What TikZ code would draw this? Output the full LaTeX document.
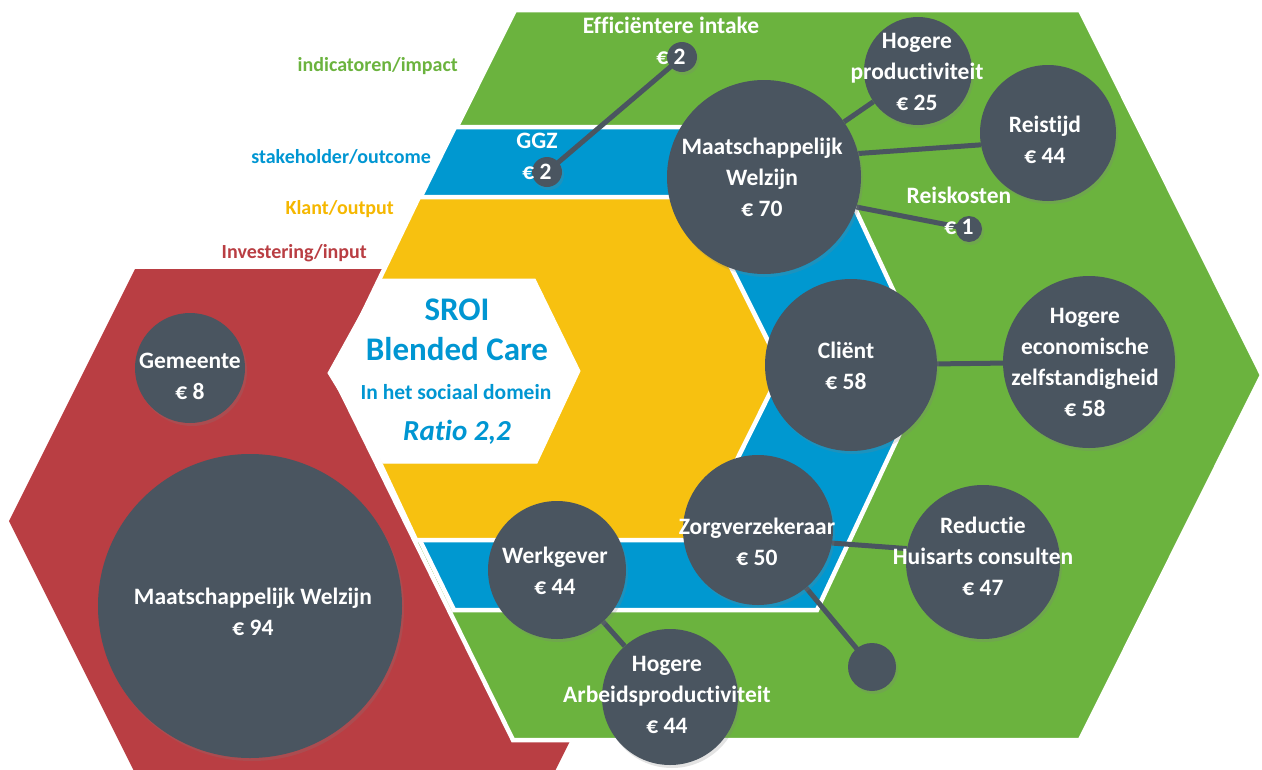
\documentclass[tikz,border=0pt]{standalone}
\usepackage{fontspec}
\setmainfont{Carlito}[Ligatures=NoCommon]
\usetikzlibrary{shadows}

\definecolor{hexgreen}{RGB}{107,179,62}
\definecolor{hexblue}{RGB}{0,152,208}
\definecolor{hexyellow}{RGB}{247,193,16}
\definecolor{hexred}{RGB}{185,62,67}
\definecolor{discgray}{RGB}{74,85,96}
\definecolor{titleblue}{RGB}{0,150,210}
\definecolor{labelyellow}{RGB}{245,183,0}

\pgfdeclarelayer{conn}
\pgfdeclarelayer{top}
\pgfsetlayers{main,conn,top}

\tikzset{
  band/.style={draw=white, line width=4.5pt, line join=miter},
  disc/.style={circle, fill=discgray, inner sep=0pt, minimum size=#1,
    drop shadow={shadow xshift=2pt, shadow yshift=-3pt, opacity=0.22}},
  ctext/.style={text=white, font=\bfseries\fontsize{23.5}{31}\selectfont, align=center, inner sep=0pt},
  layerlabel/.style={font=\bfseries\fontsize{20}{24}\selectfont, anchor=east, inner sep=0pt},
  link/.style={draw=discgray, line width=5pt},
}

\begin{document}
\begin{tikzpicture}[x=1pt, y=-1pt]
\useasboundingbox (0,0) rectangle (1262,769);

% layered hexagons
\fill[hexred] (135,269) -- (554,269) -- (680,521) -- (554,773) -- (135,773) -- (9,521) -- cycle;
\filldraw[band, fill=hexgreen] (515,10) -- (1080,10) -- (1262,375) -- (1080,740) -- (513,740) -- (333,375) -- cycle;
\filldraw[band, fill=hexblue] (455,127) -- (817,127) -- (930,369) -- (817,610) -- (454,610) -- (336,369) -- cycle;
\filldraw[band, fill=hexyellow] (419,197) -- (696,197) -- (782,369) -- (697,540) -- (416,540) -- (336,369) -- cycle;
\filldraw[draw=white, line width=1pt, fill=white] (328,373) -- (380,279) -- (535,279) -- (580,371) -- (537,463) -- (383,463) -- cycle;

% level labels
\node[layerlabel, text=hexgreen] (lblimpact) at (458,66) {indicatoren/impact};
\node[layerlabel, text=titleblue] (lbloutcome) at (431,157) {stakeholder/outcome};
\node[layerlabel, text=labelyellow] (lbloutput) at (394,209) {Klant/output};
\node[layerlabel, text=hexred] (lblinput) at (367,253) {Investering/input};

% centre title
\node[text=titleblue, font=\bfseries\fontsize{33}{40}\selectfont, inner sep=0pt] (sroi) at (457,310) {SROI};
\node[text=titleblue, font=\bfseries\fontsize{33}{40}\selectfont, inner sep=0pt] (blended) at (457,349) {Blended Care};
\node[text=titleblue, font=\bfseries\fontsize{21.5}{26}\selectfont, inner sep=0pt] (domein) at (456,392) {In het sociaal domein};
\node[text=titleblue, font=\bfseries\itshape\fontsize{29}{34}\selectfont, inner sep=0pt] (ratio) at (457,432) {Ratio 2,2};

\begin{pgfonlayer}{top}
% discs
\node[disc=30pt] (eff) at (682,57) {};
\node[disc=30pt] (ggz) at (547,172) {};
\node[disc=108pt] (hp) at (918,71) {};
\node[disc=136pt] (reis) at (1048,133) {};
\node[disc=194pt] (mw) at (764,177) {};
\node[disc=26pt] (rk) at (969,229) {};
\node[disc=172pt] (cli) at (851,365) {};
\node[disc=172pt] (hez) at (1089,362) {};
\node[disc=150pt] (zv) at (758,530) {};
\node[disc=154pt] (rhc) at (983,562) {};
\node[disc=48pt] (extra) at (872,667) {};
\node[disc=138pt] (wg) at (557,570) {};
\node[disc=136pt] (hap) at (670,697) {};
\node[disc=110pt] (gem) at (190,368) {};
\node[disc=304pt] (mwin) at (250,606) {};

% disc texts
\node[ctext] (tEff) at (671,41) {Efficiëntere intake\\€ 2};
\node[ctext] (tGgz) at (537,156) {GGZ\\€ 2};
\node[ctext] (tHp) at (917,72) {Hogere\\productiviteit\\€ 25};
\node[ctext] (tReis) at (1045,140) {Reistijd\\€ 44};
\node[ctext] (tMw) at (762,177) {Maatschappelijk\\Welzijn\\€ 70};
\node[ctext] (tRk) at (959,211) {Reiskosten\\€ 1};
\node[ctext] (tCli) at (846,366) {Cliënt\\€ 58};
\node[ctext] (tHez) at (1085,362) {Hogere\\economische\\zelfstandigheid\\€ 58};
\node[ctext] (tZv) at (757,542) {Zorgverzekeraar\\€ 50};
\node[ctext] (tRhc) at (983,556) {Reductie\\Huisarts consulten\\€ 47};
\node[ctext] (tWg) at (555,571) {Werkgever\\€ 44};
\node[ctext] (tHap) at (667,695) {Hogere\\Arbeidsproductiviteit\\€ 44};
\node[ctext] (tGem) at (190,376) {Gemeente\\€ 8};
\node[ctext] (tMwin) at (253,612) {Maatschappelijk Welzijn\\€ 94};
\end{pgfonlayer}

% connectors, under the discs
\begin{pgfonlayer}{conn}
  \draw[link] (ggz.center) -- (eff.center);
  \draw[link] (mw) -- (hp);
  \draw[link] (mw.14) -- (reis.190);
  \draw[link] (mw.-18) -- (rk.center);
  \draw[link] (cli) -- (hez);
  \draw[link] (zv.-10) -- (rhc.170);
  \draw[link] (zv) -- (extra.center);
  \draw[link] (wg) -- (hap);
\end{pgfonlayer}
\end{tikzpicture}
\end{document}
